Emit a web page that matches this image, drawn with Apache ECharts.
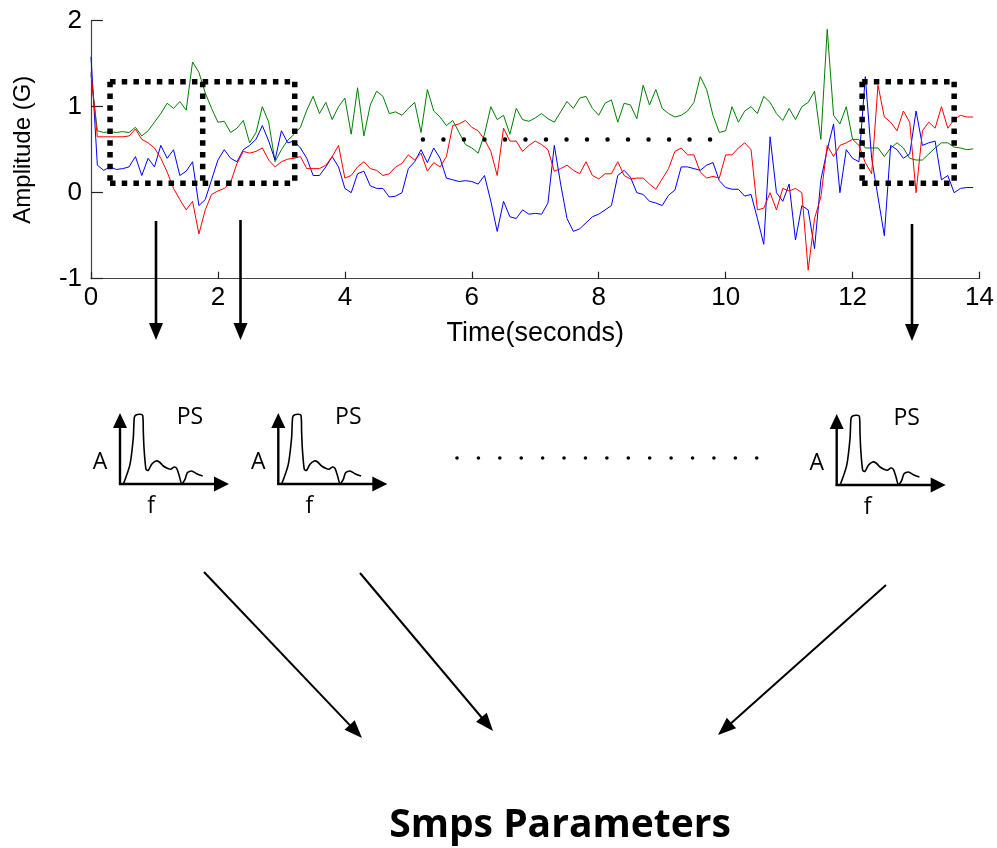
<!DOCTYPE html>
<html>
<head>
<meta charset="utf-8">
<script src="https://cdn.jsdelivr.net/npm/echarts@6/dist/echarts.min.js"></script>
<style>
  html, body { margin: 0; padding: 0; background: #fff; }
  #chart { width: 997px; height: 848px; }
</style>
</head>
<body>
<div id="chart"></div>
<script>
// Three-axis accelerometer record, sampled every 0.1 s
const sampleStep = 0.1;

const greenSignal = [
  1.37, 0.72, 0.70, 0.71, 0.70, 0.71, 0.70, 0.76, 0.66, 0.72,
  0.82, 0.92, 1.04, 0.98, 1.06, 0.96, 1.52, 1.40, 1.16, 0.98,
  0.82, 0.83, 0.70, 0.75, 0.84, 0.58, 0.70, 1.00, 0.82, 0.36,
  0.50, 0.61, 0.68, 0.76, 0.96, 1.12, 0.92, 1.05, 0.85, 1.00,
  1.10, 0.68, 1.22, 0.66, 1.02, 1.18, 1.12, 0.92, 0.94, 0.90,
  0.98, 1.05, 0.70, 1.20, 0.95, 0.88, 0.78, 0.84, 0.70, 0.56,
  0.52, 0.46, 0.68, 1.00, 0.85, 0.90, 0.68, 0.98, 0.85, 0.83,
  0.87, 0.92, 0.86, 0.82, 0.94, 1.06, 0.98, 1.10, 1.12, 0.98,
  0.90, 1.04, 1.08, 0.82, 1.04, 1.02, 0.86, 1.25, 1.02, 1.20,
  0.98, 0.92, 0.88, 0.90, 0.95, 1.05, 1.35, 1.20, 0.90, 0.70,
  0.72, 1.00, 0.82, 0.95, 1.00, 0.92, 1.12, 1.05, 0.92, 0.84,
  0.98, 0.85, 1.00, 1.05, 1.18, 0.62, 1.90, 0.90, 0.80, 1.00,
  0.62, 0.62, 0.52, 0.52, 0.52, 0.42, 0.52, 0.58, 0.52, 0.40,
  0.38, 0.38, 0.45, 0.52, 0.58, 0.58, 0.53, 0.52, 0.50, 0.51
];

const redSignal = [
  1.40, 0.65, 0.65, 0.65, 0.65, 0.65, 0.66, 0.74, 0.62, 0.58,
  0.52, 0.40, 0.24, 0.05, -0.08, -0.20, -0.10, -0.48, -0.20, -0.02,
  0.02, 0.05, 0.12, 0.34, 0.48, 0.46, 0.48, 0.52, 0.38, 0.30,
  0.36, 0.39, 0.40, 0.42, 0.28, 0.28, 0.28, 0.32, 0.42, 0.55,
  0.17, 0.20, 0.30, 0.36, 0.28, 0.26, 0.20, 0.22, 0.30, 0.34,
  0.44, 0.38, 0.46, 0.25, 0.35, 0.30, 0.42, 0.78, 0.80, 0.84,
  0.76, 0.72, 0.62, 0.48, 0.20, 0.75, 0.60, 0.60, 0.48, 0.55,
  0.60, 0.56, 0.50, 0.25, 0.28, 0.32, 0.26, 0.22, 0.36, 0.20,
  0.16, 0.22, 0.22, 0.36, 0.20, 0.16, 0.17, 0.17, 0.10, 0.04,
  0.16, 0.28, 0.48, 0.52, 0.44, 0.44, 0.24, 0.17, 0.19, 0.17,
  0.44, 0.44, 0.52, 0.58, 0.50, -0.20, -0.18, 0.00, -0.20, 0.05,
  0.02, 0.05, 0.00, -0.90, -0.30, -0.05, 0.55, 0.42, 0.55, 0.58,
  0.62, 0.55, 0.35, 0.22, 1.25, 0.88, 0.82, 0.72, 0.95, 0.82,
  0.00, 0.72, 0.82, 0.75, 1.00, 0.75, 0.85, 0.90, 0.88, 0.88
];

const blueSignal = [
  1.58, 0.32, 0.26, 0.30, 0.27, 0.28, 0.30, 0.42, 0.20, 0.40,
  0.30, 0.55, 0.40, 0.50, 0.20, 0.25, 0.36, -0.15, -0.08, 0.15,
  0.38, 0.50, 0.40, 0.36, 0.50, 0.55, 0.62, 0.78, 0.60, 0.38,
  0.72, 0.58, 0.60, 0.52, 0.40, 0.20, 0.20, 0.30, 0.42, 0.30,
  0.05, 0.00, 0.22, 0.25, 0.08, 0.05, 0.05, -0.05, -0.04, 0.00,
  0.28, 0.36, 0.50, 0.35, 0.52, 0.40, 0.17, 0.15, 0.13, 0.14,
  0.13, 0.10, 0.20, -0.10, -0.45, -0.10, -0.28, -0.30, -0.20, -0.25,
  -0.24, -0.25, -0.12, 0.55, 0.10, -0.30, -0.45, -0.42, -0.35, -0.28,
  -0.25, -0.20, -0.15, 0.20, 0.26, 0.18, 0.00, -0.02, -0.10, -0.12,
  -0.15, -0.03, 0.03, 0.30, 0.30, 0.28, 0.26, 0.32, 0.35, 0.14,
  0.06, 0.04, 0.04, -0.04, -0.02, -0.30, -0.60, 0.65, 0.00, -0.10,
  0.10, -0.55, -0.15, -0.20, -0.65, 0.15, 0.50, 0.80, 0.00, 0.50,
  0.40, 0.36, 1.35, 0.40, -0.05, -0.50, 0.55, 0.50, 0.40, 0.45,
  0.95, 0.55, 0.58, 0.60, 0.15, 0.20, 0.00, 0.05, 0.06, 0.06
];

// Analysis windows on the time axis: [tStart, tEnd]
const windowSpans = [
  [0.30, 1.76],
  [1.76, 3.21],
  [12.15, 13.60]
];
// Upper and lower amplitude of the window frames
const windowLevels = [1.29, 0.11];
// Ellipsis line between the windows: [tStart, tEnd, level]
const ellipsisLine = [5.23, 9.87, 0.62];

function toPairs(values) {
  return values.map((v, i) => [Number((i * sampleStep).toFixed(1)), v]);
}

const chartFont = 'Liberation Sans, Arial, sans-serif';
const sketchFont = 'Open Sans, sans-serif';

const chart = echarts.init(document.getElementById('chart'), null, { renderer: 'canvas' });

chart.setOption({
  animation: false,
  backgroundColor: '#ffffff',
  grid: { left: 91, right: 17, top: 20.7, bottom: 569.3, containLabel: false },
  xAxis: {
    type: 'value', min: 0, max: 14, interval: 2,
    name: 'Time(seconds)', nameLocation: 'middle', nameGap: 41,
    nameTextStyle: { fontFamily: chartFont, fontSize: 27, color: '#000' },
    axisLine: { show: true, onZero: false, lineStyle: { color: '#444', width: 1.2 } },
    axisTick: { show: true, inside: true, length: 7, lineStyle: { color: '#222', width: 1.2 } },
    axisLabel: { fontFamily: chartFont, fontSize: 26, color: '#000', margin: 6 },
    splitLine: { show: false }
  },
  yAxis: {
    type: 'value', min: -1, max: 2, interval: 1,
    name: 'Amplitude (G)', nameLocation: 'middle', nameGap: 56, nameRotate: 90,
    nameTextStyle: { fontFamily: chartFont, fontSize: 24, color: '#000' },
    axisLine: { show: true, lineStyle: { color: '#444', width: 1.2 } },
    axisTick: { show: true, inside: true, length: 12, lineStyle: { color: '#222', width: 1.2 } },
    axisLabel: { fontFamily: chartFont, fontSize: 26, color: '#000', margin: 9 },
    splitLine: { show: false }
  },
  series: [
    { name: 'z', type: 'line', data: toPairs(greenSignal), showSymbol: false,
      lineStyle: { color: '#008000', width: 1 }, itemStyle: { color: '#008000' } },
    { name: 'x', type: 'line', data: toPairs(blueSignal), showSymbol: false,
      lineStyle: { color: '#0000ff', width: 1 }, itemStyle: { color: '#0000ff' } },
    { name: 'y', type: 'line', data: toPairs(redSignal), showSymbol: false,
      lineStyle: { color: '#ff0000', width: 1 }, itemStyle: { color: '#ff0000' } }
  ]
});

// ---------- overlay drawing ----------
const overlay = [];

function px(t, v) {
  return chart.convertToPixel({ xAxisIndex: 0, yAxisIndex: 0 }, [t, v]);
}

const frameStyle = { stroke: '#000', lineWidth: 5.5, lineDash: [5.5, 6.2], lineCap: 'butt' };
function frameEdge(a, b) {
  overlay.push({ type: 'line', z: 100,
    shape: { x1: a[0], y1: a[1], x2: b[0], y2: b[1] }, style: Object.assign({}, frameStyle) });
}

// dotted window frames; adjacent windows share one divider
windowSpans.forEach(([t0, t1], i) => {
  const [hi, lo] = windowLevels;
  const tl = px(t0, hi), tr = px(t1, hi), bl = px(t0, lo), br = px(t1, lo);
  frameEdge(tl, tr);
  frameEdge(bl, br);
  frameEdge(tr, br);
  const prev = windowSpans[i - 1];
  if (!prev || prev[1] !== t0) frameEdge(tl, bl);
});

// dotted ellipsis inside the plot
{
  const a = px(ellipsisLine[0], ellipsisLine[2]);
  const b = px(ellipsisLine[1], ellipsisLine[2]);
  overlay.push({
    type: 'line', z: 100,
    shape: { x1: a[0], y1: a[1], x2: b[0], y2: b[1] },
    style: { stroke: '#000', lineWidth: 4.5, lineDash: [0.01, 20.5], lineCap: 'round' }
  });
}

function arrow(x1, y1, x2, y2, width, headLen, headHalf) {
  const dx = x2 - x1, dy = y2 - y1;
  const len = Math.hypot(dx, dy);
  const ux = dx / len, uy = dy / len;
  const nx = -uy, ny = ux;
  const bx = x2 - ux * headLen, by = y2 - uy * headLen;
  overlay.push({
    type: 'line', z: 100,
    shape: { x1: x1, y1: y1, x2: bx + ux * 2, y2: by + uy * 2 },
    style: { stroke: '#000', lineWidth: width }
  });
  overlay.push({
    type: 'polygon', z: 100,
    shape: { points: [[x2, y2], [bx + nx * headHalf, by + ny * headHalf], [bx - nx * headHalf, by - ny * headHalf]] },
    style: { fill: '#000' }
  });
}

// arrows from the windows down to the spectra
arrow(156, 221, 156, 340, 2.6, 17, 7);
arrow(240.5, 220, 240.5, 340, 2.6, 17, 7);
arrow(912, 224, 912, 341, 2.6, 17, 7);

// power-spectrum sketch
const spectrumCurve = [
  [3.3, 0.3], [10, -19.7], [13.3, -46.3], [14.3, -66.3], [16, -69], [20, -69.7],
  [22.7, -68.7], [23.3, -53], [24, -36.3], [26, -14.7], [28.3, -13.7], [31.7, -19.7],
  [36, -23], [39.3, -22], [43.3, -18], [47.3, -15.7], [50.7, -14.7], [54, -17],
  [56.7, -15.7], [59.3, -8], [61.7, -0.3], [65, -4.7], [67.3, -11.3], [71.7, -13],
  [76.7, -10.3], [82.7, -8]
];

function spectrumSketch(ox, oy) {
  // axes
  overlay.push({ type: 'line', z: 100, shape: { x1: ox, y1: oy + 1, x2: ox, y2: oy - 58 },
    style: { stroke: '#000', lineWidth: 2.4 } });
  overlay.push({ type: 'polygon', z: 100,
    shape: { points: [[ox, oy - 71], [ox - 7, oy - 56], [ox + 7, oy - 56]] }, style: { fill: '#000' } });
  overlay.push({ type: 'line', z: 100, shape: { x1: ox - 1, y1: oy, x2: ox + 97, y2: oy },
    style: { stroke: '#000', lineWidth: 2.4 } });
  overlay.push({ type: 'polygon', z: 100,
    shape: { points: [[ox + 109, oy], [ox + 94, oy - 7.5], [ox + 94, oy + 7.5]] }, style: { fill: '#000' } });
  // spectrum
  overlay.push({ type: 'polyline', z: 100,
    shape: { points: spectrumCurve.map(p => [ox + p[0], oy + p[1]]), smooth: 0.25 },
    style: { stroke: '#000', lineWidth: 1.6, fill: null } });
  // labels
  const label = (text, dx, dy) => overlay.push({ type: 'text', z: 100, x: ox + dx, y: oy + dy,
    style: { text: text, font: '23px ' + sketchFont, fill: '#000', align: 'center', verticalAlign: 'middle' } });
  label('A', -20, -22);
  label('PS', 70, -67);
  label('f', 31, 22);
}

spectrumSketch(120, 484);
spectrumSketch(278.3, 484);
spectrumSketch(836.7, 485);

// ellipsis between spectra
overlay.push({ type: 'line', z: 100, shape: { x1: 457, y1: 458, x2: 757, y2: 458 },
  style: { stroke: '#000', lineWidth: 3.6, lineDash: [0.01, 21.4], lineCap: 'round' } });

// arrows converging on the parameter block
arrow(204, 572, 362, 738, 2, 18, 7);
arrow(360, 573, 493, 731, 2, 18, 7);
arrow(886, 585, 718, 735, 2, 18, 7);

overlay.push({ type: 'text', z: 100, x: 560, y: 826,
  style: { text: 'Smps Parameters', font: 'bold 39px ' + sketchFont, fill: '#000',
           align: 'center', verticalAlign: 'middle' } });

chart.setOption({ graphic: overlay });
</script>
</body>
</html>
